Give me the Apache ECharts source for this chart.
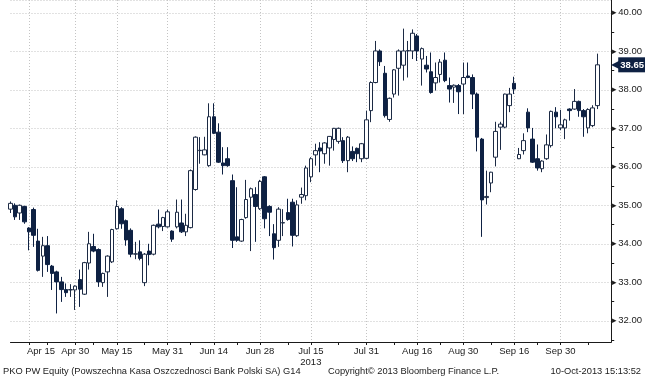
<!DOCTYPE html>
<html>
<head>
<meta charset="utf-8">
<script src="https://cdn.jsdelivr.net/npm/echarts@6/dist/echarts.min.js"></script>
<style>html,body{margin:0;padding:0;background:#fff}#c{width:645px;height:380px}</style>
</head>
<body>
<div id="c"></div>
<script>
// ---- trading days (2013) ----
const aprDays = [10,11,12,15,16,17,18,19,22,23,24,25,26,29,30];
const mayDays = [2,6,7,8,9,10,13,14,15,16,17,20,21,22,23,24,27,28,29,31];
const junDays = [3,4,5,6,7,10,11,12,13,14,17,18,19,20,21,24,25,26,27,28];
const julDays = [1,2,3,4,5,8,9,10,11,12,15,16,17,18,19,22,23,24,25,26,29,30,31];
const augDays = [1,2,5,6,7,8,9,12,13,14,16,19,20,21,22,23,26,27,28,29,30];
const sepDays = [2,3,4,5,6,9,10,11,12,13,16,17,18,19,20,23,24,25,26,27,30];
const octDays = [1,2,3,4,7,8,9,10];

// ---- OHLC (PLN) ----
const openVals = [34.90,35.00,34.80,34.97,34.41,34.89,34.07,33.68,33.95,33.42,33.27,33.01,32.81,32.80,32.80,33.07,32.69,33.50,33.93,33.85,32.99,33.27,33.53,34.39,34.91,34.60,34.35,33.73,33.79,32.99,33.81,33.73,34.51,34.45,34.44,34.33,34.44,34.54,34.31,34.42,35.41,36.42,36.31,36.03,37.30,36.90,36.10,36.21,35.64,34.18,34.07,34.68,35.21,35.28,34.91,35.74,34.97,34.26,34.09,34.54,34.81,35.08,34.21,35.21,35.25,35.74,36.31,36.49,36.34,36.49,36.71,36.66,36.68,36.16,36.40,36.48,36.21,36.22,37.46,38.19,39.01,38.43,37.23,37.89,38.56,38.64,39.01,39.01,39.40,38.80,38.64,38.47,38.18,38.40,38.77,38.11,38.07,38.11,38.15,38.36,38.32,37.89,36.72,35.20,35.58,36.25,37.03,37.03,37.59,38.17,36.21,36.42,37.42,36.72,36.21,35.95,36.21,36.55,37.42,37.01,37.01,37.50,37.50,37.70,37.46,37.01,37.07,37.59];
const closeVals = [35.05,34.70,35.00,34.57,34.31,34.22,33.31,33.95,33.46,33.23,33.01,32.81,32.73,32.81,32.90,32.82,33.51,34.00,33.81,33.01,33.23,33.68,34.37,34.97,34.52,34.10,33.73,33.74,33.62,33.73,33.72,34.48,34.44,34.68,34.83,34.12,34.82,34.31,34.48,35.90,36.77,36.43,36.44,37.30,36.87,36.12,36.03,36.03,34.09,34.09,34.63,35.15,35.43,34.97,35.62,34.65,34.82,33.90,34.90,34.55,34.63,34.22,35.01,35.28,35.97,36.21,36.42,36.41,36.62,36.79,37.00,37.00,36.16,36.77,36.21,36.34,36.60,37.22,38.19,39.01,38.73,37.33,37.78,38.52,39.01,39.01,39.02,39.47,39.01,39.07,38.54,37.93,38.32,38.72,38.24,38.02,38.12,37.95,38.32,38.32,37.89,36.77,35.14,35.23,35.86,36.92,37.11,37.89,37.89,38.02,36.32,36.68,37.01,36.12,35.97,36.15,36.57,37.44,37.30,37.09,37.22,37.46,37.70,37.46,37.30,37.49,37.53,38.65];
const lowVals = [34.80,34.62,34.62,34.52,33.83,33.92,33.28,33.14,33.27,32.80,32.19,32.49,32.62,32.62,32.28,32.36,32.67,33.33,33.78,32.88,32.88,32.62,33.50,34.37,34.39,33.95,33.65,33.60,33.57,32.90,33.44,33.70,34.40,34.33,34.42,34.05,34.40,34.28,34.20,34.40,35.38,36.08,36.30,36.00,36.85,36.10,35.80,36.00,33.89,34.05,34.05,34.65,33.81,34.05,34.88,34.40,34.20,33.59,33.92,34.20,34.60,33.93,34.18,35.04,35.13,35.60,36.03,35.86,36.08,36.03,36.42,36.60,36.10,35.86,36.15,36.12,36.12,36.20,37.16,38.17,38.62,37.28,37.17,37.80,37.85,38.24,38.32,38.80,38.75,38.11,38.45,37.90,37.98,38.19,38.20,37.67,37.66,37.37,37.37,38.30,37.50,36.40,34.18,35.02,35.34,36.01,36.44,37.00,37.42,37.89,36.20,36.32,36.90,36.10,35.90,35.86,36.18,36.50,37.00,36.95,36.72,37.20,37.48,37.30,36.78,36.87,37.03,37.50];
const highVals = [35.10,35.05,35.02,34.99,34.43,34.94,34.39,34.18,34.20,33.45,33.30,33.14,32.97,32.95,32.92,33.33,33.53,34.31,34.26,33.88,33.25,33.70,34.39,35.13,34.95,34.63,34.40,34.05,34.09,33.76,34.00,34.50,34.89,34.70,34.89,34.35,35.15,35.15,34.78,35.93,36.79,36.77,36.78,37.65,37.65,37.13,36.51,36.51,35.80,35.47,34.65,35.66,35.46,35.47,35.66,35.76,35.00,34.51,34.95,34.90,35.17,35.17,35.13,35.46,36.03,36.25,36.60,36.64,36.64,36.80,37.01,37.02,36.77,36.80,36.53,36.50,36.62,37.46,38.22,39.27,39.05,38.62,37.80,38.54,39.05,39.59,39.27,39.57,39.45,39.10,38.88,38.97,38.71,38.80,38.97,38.32,38.14,38.15,38.71,38.71,38.40,37.93,36.75,35.90,35.87,37.17,37.17,37.90,38.05,38.34,36.49,36.87,37.52,37.01,36.58,36.17,36.84,37.46,37.55,37.48,37.25,37.52,38.02,37.72,37.50,37.52,37.60,38.94];

// ---- x-axis labels / ticks ----
const labelDates = ['2013-04-16','2013-04-30','2013-05-15','2013-05-31','2013-06-14','2013-06-28','2013-07-15','2013-07-31','2013-08-16','2013-08-30','2013-09-16','2013-09-30'];
const labelTexts = ['Apr 15','Apr 30','May 15','May 31','Jun 14','Jun 28','Jul 15\n2013','Jul 31','Aug 16','Aug 30','Sep 16','Sep 30'];
const minorTickDates = ['2013-04-22','2013-05-08','2013-05-23','2013-06-07','2013-06-21','2013-07-08','2013-07-23','2013-08-08','2013-08-23','2013-09-09','2013-09-23','2013-10-08'];

const pad = n => (n < 10 ? '0' : '') + n;
const months = [['04',aprDays],['05',mayDays],['06',junDays],['07',julDays],['08',augDays],['09',sepDays],['10',octDays]];
const dates = [];
months.forEach(([m, days]) => days.forEach(d => dates.push('2013-' + m + '-' + pad(d))));
const categories = dates.concat(['', ' ', '  ']);

const labelMap = {};
labelDates.forEach((d, i) => labelMap[d] = labelTexts[i]);
const tickSet = new Set(labelDates.concat(minorTickDates));

const ohlc = openVals.map((o, i) => [o, closeVals[i], lowVals[i], highVals[i]]);
const lastClose = closeVals[closeVals.length - 1];

const navy = '#0e2143';
const fontFam = '"Liberation Sans", Arial, sans-serif';
const capStyle = {fontSize: 9.3, fontWeight: 'normal', color: '#1a1a1a', fontFamily: fontFam};

const chart = echarts.init(document.getElementById('c'), null, {renderer: 'canvas'});
chart.setOption({
  animation: false,
  backgroundColor: '#ffffff',
  textStyle: {fontFamily: fontFam},
  title: [
    {text: 'PKO PW Equity (Powszechna Kasa Oszczednosci Bank Polski SA) G14', left: 3, top: 367, padding: 0, textStyle: capStyle},
    {text: 'Copyright\u00a9 2013 Bloomberg Finance L.P.', left: 328, top: 367, padding: 0, textStyle: capStyle},
    {text: '10-Oct-2013 15:13:52', right: 4, top: 367, padding: 0, textStyle: capStyle}
  ],
  grid: {left: -4.2, right: 33, top: -1, bottom: 38, containLabel: false},
  xAxis: {
    type: 'category',
    data: categories,
    boundaryGap: false,
    axisLine: {lineStyle: {color: '#1a1a1a', width: 1}},
    axisTick: {show: true, alignWithLabel: true, length: 3,
      interval: (i, v) => tickSet.has(v), lineStyle: {color: '#1a1a1a'}},
    axisLabel: {
      interval: (i, v) => labelMap[v] !== undefined,
      formatter: (v) => v === labelDates[0] ? '{s| }' + labelMap[v] : labelMap[v],
      color: '#1a1a1a', fontSize: 9.5, margin: 4, lineHeight: 11, fontFamily: fontFam,
      rich: {s: {width: 24, fontSize: 9.5}}
    },
    splitLine: {show: true, interval: (i, v) => labelMap[v] !== undefined,
      lineStyle: {color: '#c4c4c4', type: [1, 2], width: 1}}
  },
  yAxis: {
    type: 'value',
    position: 'right',
    min: 31.448,
    max: 40.334,
    splitNumber: 9,
    axisLine: {show: true, lineStyle: {color: '#1a1a1a', width: 1}},
    axisTick: {show: false},
    minorTick: {show: true, splitNumber: 2, length: 3, lineStyle: {color: '#1a1a1a'}},
    minorSplitLine: {show: false},
    axisLabel: {
      showMinLabel: false, showMaxLabel: false, margin: 1,
      color: '#1a1a1a', fontSize: 9.5, fontFamily: fontFam,
      formatter: v => '{t|\u25B8}' + v.toFixed(2),
      rich: {t: {color: '#1a1a1a', fontSize: 9, padding: [0, 1, 0, 0]}}
    },
    splitLine: {show: true, lineStyle: {color: '#c4c4c4', type: [1, 2], width: 1}}
  },
  series: [{
    type: 'candlestick',
    data: ohlc,
    barWidth: 4,
    itemStyle: {
      color: '#ffffff', color0: navy,
      borderColor: '#1c2a44', borderColor0: navy, borderWidth: 1
    },
    markLine: {
      silent: true,
      symbol: ['none', 'none'],
      animation: false,
      lineStyle: {width: 0.01, color: 'rgba(255,255,255,0)', type: 'solid'},
      data: [{yAxis: lastClose}],
      label: {
        show: true, position: 'end', distance: 0,
        formatter: () => '{a|\u25C0}{b|' + lastClose.toFixed(2) + '}',
        rich: {
          a: {color: navy, fontSize: 12, padding: [0, -2, 0, 0]},
          b: {backgroundColor: navy, color: '#ffffff', fontSize: 9.5, fontWeight: 'bold',
              padding: [3, 3, 2, 2], fontFamily: fontFam}
        }
      }
    }
  }]
});
</script>
</body>
</html>
